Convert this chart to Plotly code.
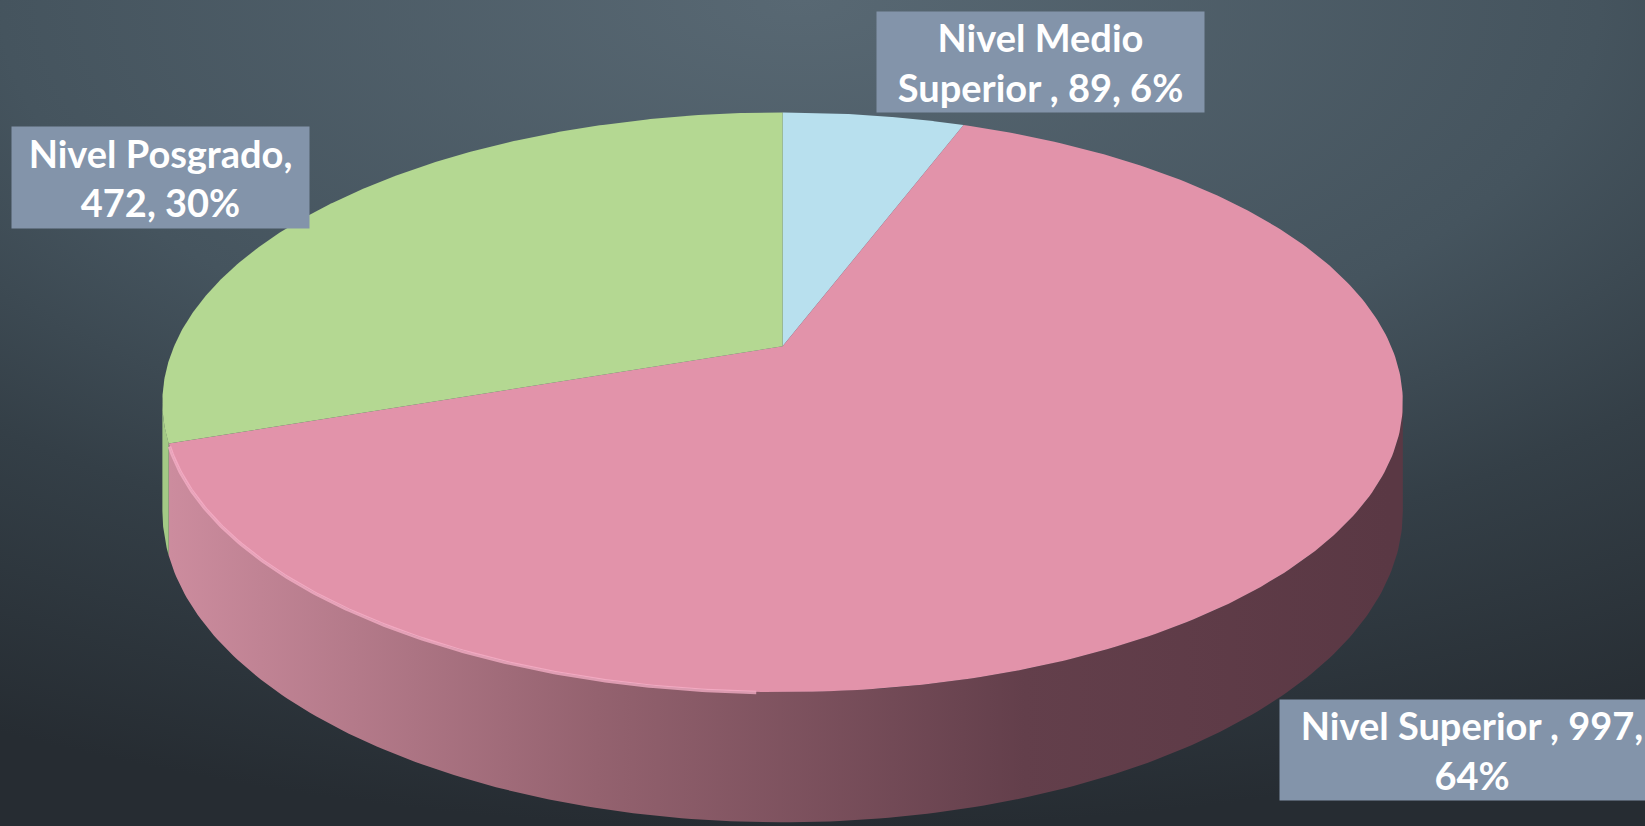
import numpy as np
import plotly.graph_objects as go

# data
niveles = ["Nivel Medio Superior", "Nivel Superior", "Nivel Posgrado"]
alumnos = [89, 997, 472]
etiquetas = ["Nivel Medio<br>Superior , {v}, {p}%",
             "Nivel Superior , {v},<br>{p}%",
             "Nivel Posgrado,<br>{v}, {p}%"]
colores_tapa = ["#b8e0ee", "#e293aa", "#b4d892"]
colores_lado = ["#9cc4d2", "#c98a9c", "#a3c985"]

W, H = 1645, 826
# geometry of the projected 3D disk (screen px)
CX, CY = 782.6, 346.2
A, B, K, T = 608.5, 279.0, 0.1935, 105.0


def proyectar(theta_deg, drop=0.0):
    t = np.radians(theta_deg)
    u, v = np.sin(t), np.cos(t)
    s = 1.0 / (1.0 + K * v)
    return CX + A * u * s, CY - B * v * s + drop * s


total = sum(alumnos)
pct = [round(100 * v / total) for v in alumnos]
bordes = np.concatenate([[0], np.cumsum(alumnos) / total * 360.0])

# silhouette of the visible side (tangent points of the perspective ellipse)
th_sil = np.degrees(np.arccos(-K))
lado_ini, lado_fin = th_sil, 360 - th_sil

fig = go.Figure()

# background with radial light from the top
fig.add_trace(go.Scatter(
    x=[-900, 2500, 2500, -900, -900], y=[-830, -830, 830, 830, -830],
    mode="lines", line=dict(width=0), fill="toself",
    fillgradient=dict(type="radial",
                      colorscale=[[0, "#586873"], [0.47, "#45545e"],
                                  [0.7, "#343f47"], [1, "#262c32"]]),
    hoverinfo="skip", showlegend=False,
))

# sides
for i in range(len(alumnos)):
    a0, a1 = max(bordes[i], lado_ini), min(bordes[i + 1], lado_fin)
    if a1 <= a0:
        continue
    th = np.linspace(a0, a1, 200)
    xt, yt = proyectar(th)
    xb, yb = proyectar(th[::-1], T)
    xs = np.concatenate([xt, xb, xt[:1]])
    ys = np.concatenate([yt, yb, yt[:1]])
    if i == 1:
        fg = dict(type="horizontal", start=170, stop=1390,
                  colorscale=[[0, "#cc8c9e"], [0.35, "#94626f"],
                              [0.7, "#633f4b"], [1, "#5a3844"]])
        fig.add_trace(go.Scatter(x=xs, y=ys, mode="lines", line=dict(width=0),
                                 fill="toself", fillgradient=fg,
                                 hoverinfo="skip", showlegend=False))
    else:
        fig.add_trace(go.Scatter(x=xs, y=ys, mode="lines", line=dict(width=0),
                                 fill="toself", fillcolor=colores_lado[i],
                                 hoverinfo="skip", showlegend=False))

# top face slices
for i in range(len(alumnos)):
    th = np.linspace(bordes[i], bordes[i + 1], 300)
    xa, ya = proyectar(th)
    xs = np.concatenate([[CX], xa, [CX]])
    ys = np.concatenate([[CY], ya, [CY]])
    fig.add_trace(go.Scatter(x=xs, y=ys, mode="lines", line=dict(width=0),
                             fill="toself", fillcolor=colores_tapa[i],
                             name=niveles[i], hoverinfo="name", showlegend=False))

# rim highlight on the front-left edge of the big slice
th = np.linspace(182, bordes[2] - 0.5, 200)
xr, yr = proyectar(th, 0.5)
fig.add_trace(go.Scatter(x=xr, y=yr, mode="lines",
                         line=dict(color="rgba(247,176,200,0.75)", width=3.5),
                         hoverinfo="skip", showlegend=False))

# labels
cajas = [(1040, 62, 327, 100), (1472, 750, 384, 100), (160, 177, 297, 101)]
for i, (lx, ly, bw, bh) in enumerate(cajas):
    fig.add_annotation(
        x=lx, y=ly, xref="x", yref="y", showarrow=False,
        text=etiquetas[i].format(v=alumnos[i], p=pct[i]),
        font=dict(family="Lato", size=38, color="white", weight="bold"),
        bgcolor="#8394aa", width=bw, height=bh, align="center",
        xanchor="center", yanchor="middle", borderpad=0,
    )

fig.update_xaxes(range=[0, W], visible=False, fixedrange=True)
fig.update_yaxes(range=[H, 0], visible=False, fixedrange=True)
fig.update_layout(
    width=W, height=H, margin=dict(l=0, r=0, t=0, b=0),
    paper_bgcolor="#2c343b", plot_bgcolor="#2c343b",
    showlegend=False,
)
fig.write_html("out.html", config={"displayModeBar": False},
               post_script="document.body.style.margin='0';")
